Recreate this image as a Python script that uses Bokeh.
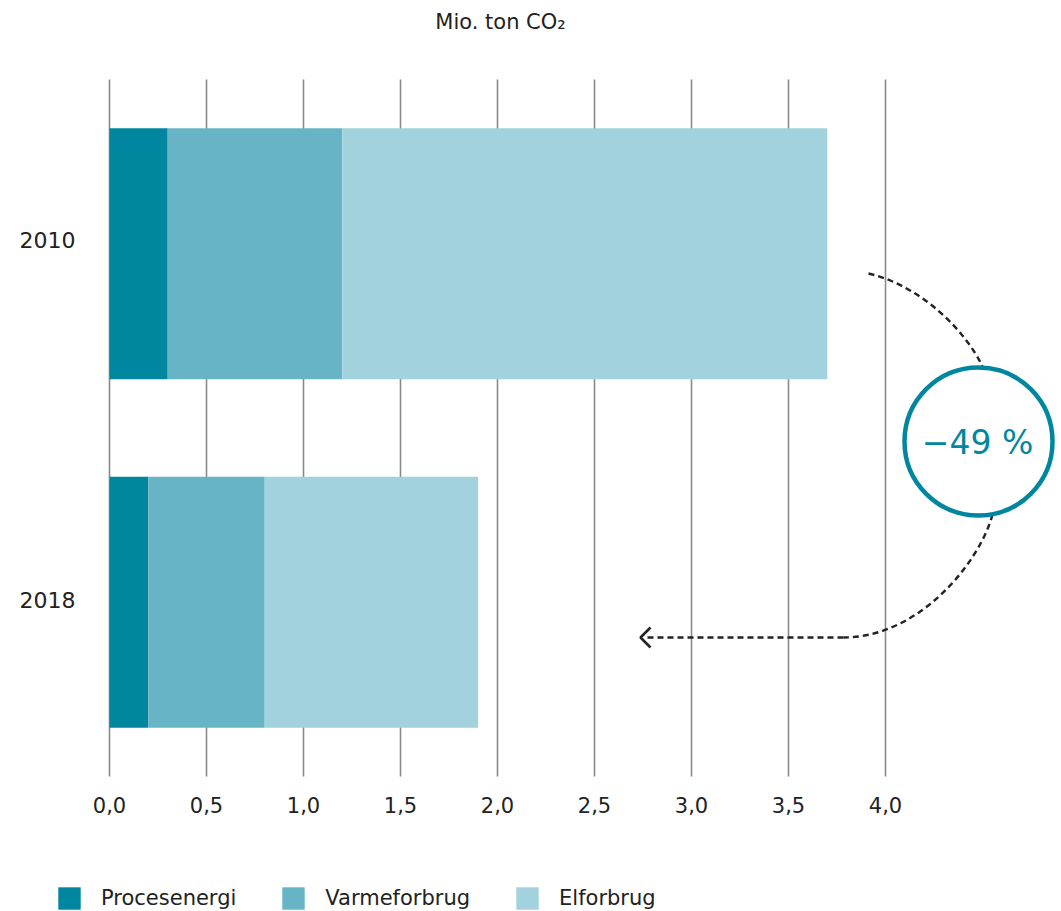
from bokeh.plotting import figure
from bokeh.models import Range1d, Legend, LegendItem
from bokeh.embed import file_html
from bokeh.resources import INLINE
from bokeh.core.properties import value

# ---- data ----
years = ["2018", "2010"]
procesenergi = [0.2, 0.3]
varmeforbrug = [0.6, 0.9]
elforbrug = [1.1, 2.5]
series_names = ["Procesenergi", "Varmeforbrug", "Elforbrug"]
colors = ["#00879f", "#68b4c7", "#a1d2dd"]
x_ticks = [0.0, 0.5, 1.0, 1.5, 2.0, 2.5, 3.0, 3.5, 4.0]
x_tick_labels = ["0,0", "0,5", "1,0", "1,5", "2,0", "2,5", "3,0", "3,5", "4,0"]
title_text = "Mio. ton CO\u2082"
change_text = "\u221249 %"

FONT = "DejaVu Sans"
TXT = "#222222"
TEAL = "#00879f"
W, H = 1061, 911

# pixel <-> data helpers (layout only)
X0PX, XSCALE = 109, 194.0     # x=0 at 109 px, 194 px per unit
Y0PX, YSCALE = 776, 348.5     # y=0 (frame bottom) at 776 px, px per category slot


def px2x(px):
    return (px - X0PX) / XSCALE


def py2y(py):
    return (Y0PX - py) / YSCALE


# category slots: each year occupies one unit, centred at i + 0.5
ypos = [i + 0.5 for i in range(len(years))]

p = figure(width=W, height=H, x_range=Range1d(px2x(0), px2x(W)), y_range=Range1d(py2y(H), py2y(0)),
           output_backend="svg", toolbar_location=None,
           x_axis_location=None, y_axis_location=None,
           min_border_left=0, min_border_right=0, min_border_top=0, min_border_bottom=0)
p.outline_line_color = None
p.grid.visible = False
p.background_fill_color = "white"

# vertical grid lines (category area only)
p.segment(x0=x_ticks, x1=x_ticks, y0=[0] * len(x_ticks), y1=[len(years)] * len(x_ticks),
          line_color="#8a8a8a", line_width=1.6)

source = dict(y=ypos, Procesenergi=procesenergi, Varmeforbrug=varmeforbrug, Elforbrug=elforbrug)
rs = p.hbar_stack(series_names, y="y", height=0.72, color=colors, line_color=None, source=source)

# x tick labels
p.text(x=x_ticks, y=[py2y(804)] * len(x_ticks), text=x_tick_labels, text_align="center",
       text_baseline="middle", text_font=value(FONT), text_font_size="21px", text_color=TXT)
# y category labels
p.text(x=[px2x(75)] * len(years), y=ypos, text=years, y_offset=[-2.5, -13.5],
       text_align="right", text_baseline="middle", text_font=value(FONT),
       text_font_size="22px", text_color=TXT)
# title
p.text(x=[px2x(500)], y=[py2y(21)], text=[title_text], text_align="center",
       text_baseline="middle", text_font=value(FONT), text_font_size="21px", text_color=TXT)

dash = dict(line_color="#222222", line_width=2.4, line_dash="6 4")
# upper arc
p.bezier(x0=[px2x(868)], y0=[py2y(273)], x1=[px2x(982)], y1=[py2y(366)],
         cx0=[px2x(920)], cy0=[py2y(285)], cx1=[px2x(965)], cy1=[py2y(330)], **dash)
# lower arc
p.bezier(x0=[px2x(992)], y0=[py2y(514)], x1=[px2x(843)], y1=[py2y(637)],
         cx0=[px2x(980)], cy0=[py2y(560)], cx1=[px2x(920)], cy1=[py2y(637)], **dash)
# straight arrow shaft
p.line(x=[px2x(843), px2x(643)], y=[py2y(637), py2y(637)], **dash)
# arrow head
p.line(x=[px2x(650), px2x(640), px2x(650)], y=[py2y(627), py2y(637), py2y(647)],
       line_color="#222222", line_width=2.6)

# circle with percentage
p.scatter(x=[px2x(978)], y=[py2y(441)], size=148, marker="circle", fill_color="white",
          line_color=TEAL, line_width=4.5)
p.text(x=[px2x(977)], y=[py2y(442)], text=[change_text], text_align="center",
       text_baseline="middle", text_font=value(FONT), text_font_size="33px",
       text_color=TEAL)

legend = Legend(items=[LegendItem(label=n, renderers=[r]) for n, r in zip(series_names, rs)],
                orientation="horizontal", location=(55, -1), padding=0, margin=0,
                spacing=43, label_standoff=18, glyph_width=28, glyph_height=28,
                border_line_color=None, background_fill_alpha=0,
                label_text_font=FONT, label_text_font_size="21px", label_text_color=TXT)
p.add_layout(legend, "center")

open("out.html", "w").write(file_html(p, INLINE))
